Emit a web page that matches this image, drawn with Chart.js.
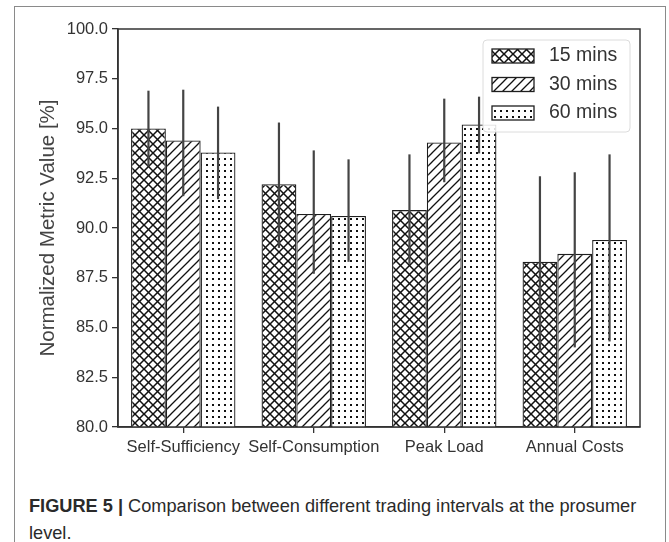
<!DOCTYPE html>
<html>
<head>
<meta charset="utf-8">
<script src="https://cdn.jsdelivr.net/npm/chart.js@4.4.1/dist/chart.umd.min.js"></script>
<style>
  html, body { margin: 0; padding: 0; background: #fff; }
  body { width: 669px; height: 542px; position: relative; overflow: hidden; font-family: "Liberation Sans", Arial, sans-serif; }
  #frame { position: absolute; left: 14px; top: 6px; width: 652px; height: 560px; border: 1.5px solid #8a8a8a; box-sizing: border-box; }
  #wrap { position: absolute; left: 0; top: 0; width: 669px; height: 470px; }
  #caption { position: absolute; left: 29px; top: 493px; width: 612px; font-size: 18.2px; line-height: 27px; color: #2a2a2a; }
  #caption b { font-weight: bold; }
</style>
</head>
<body>
<div id="frame"></div>
<div id="wrap"><canvas id="chart"></canvas></div>
<div id="caption"><b>FIGURE 5 |</b> Comparison between different trading intervals at the prosumer level.</div>
<script>
// data
var categories = ["Self-Sufficiency", "Self-Consumption", "Peak Load", "Annual Costs"];
var seriesNames = ["15 mins", "30 mins", "60 mins"];
var mean15 = [95.0, 92.2, 90.9, 88.3];
var mean30 = [94.4, 90.7, 94.3, 88.7];
var mean60 = [93.8, 90.6, 95.2, 89.4];
// whisker ends
var low15 = [93.1, 89.0, 88.2, 83.8];
var high15 = [96.9, 95.3, 93.7, 92.6];
var low30 = [91.6, 87.7, 92.3, 84.0];
var high30 = [96.95, 93.9, 96.5, 92.8];
var low60 = [91.45, 88.3, 93.75, 84.3];
var high60 = [96.1, 93.45, 96.6, 93.7];
var yTicks = [80.0, 82.5, 85.0, 87.5, 90.0, 92.5, 95.0, 97.5, 100.0];

// hatch patterns
function makePattern(kind) {
  var c = document.createElement("canvas");
  var s = kind == "dots" ? 6 : 9;
  c.width = s; c.height = s;
  var g = c.getContext("2d");
  g.fillStyle = "#fff";
  g.fillRect(0, 0, s, s);
  g.strokeStyle = "#111";
  g.fillStyle = "#111";
  g.lineWidth = kind == "cross" ? 1.5 : 1.3;
  if (kind == "cross" || kind == "diag") {
    g.beginPath();
    g.moveTo(-1, s + 1); g.lineTo(s + 1, -1);
    g.moveTo(-1, 1); g.lineTo(1, -1);
    g.moveTo(s - 1, s + 1); g.lineTo(s + 1, s - 1);
    g.stroke();
  }
  if (kind == "cross") {
    g.beginPath();
    g.moveTo(-1, -1); g.lineTo(s + 1, s + 1);
    g.moveTo(s - 1, -1); g.lineTo(s + 1, 1);
    g.moveTo(-1, s - 1); g.lineTo(1, s + 1);
    g.stroke();
  }
  if (kind == "dots") {
    g.fillRect(2, 2, 2, 2);
  }
  return g.createPattern(c, "repeat");
}
var patterns = [makePattern("cross"), makePattern("diag"), makePattern("dots")];

var means = [mean15, mean30, mean60];
var lows = [low15, low30, low60];
var highs = [high15, high30, high60];

var datasets = [];
for (var i = 0; i < seriesNames.length; i++) {
  datasets.push({
    label: seriesNames[i],
    data: means[i],
    backgroundColor: patterns[i],
    borderColor: "#1e1e1e",
    borderWidth: 1.3,
    borderSkipped: "bottom",
    barPercentage: 1.0,
    categoryPercentage: 0.8
  });
}

// error bars, plot frame and the legend box
var extras = {
  id: "extras",
  afterDatasetsDraw: function (chart) {
    var ctx = chart.ctx;
    var y = chart.scales.y;
    ctx.save();
    ctx.strokeStyle = "#444";
    ctx.lineWidth = 2.2;
    for (var d = 0; d < chart.data.datasets.length; d++) {
      var meta = chart.getDatasetMeta(d);
      for (var j = 0; j < meta.data.length; j++) {
        var x = meta.data[j].x;
        ctx.beginPath();
        ctx.moveTo(x, y.getPixelForValue(lows[d][j]));
        ctx.lineTo(x, y.getPixelForValue(highs[d][j]));
        ctx.stroke();
      }
    }
    // frame round the plot
    var a = chart.chartArea;
    ctx.strokeStyle = "#333";
    ctx.lineWidth = 1.5;
    ctx.strokeRect(a.left, a.top, a.right - a.left, a.bottom - a.top);

    // legend
    var lx = a.right - 157, ly = a.top + 11, lw = 147, lh = 92;
    ctx.beginPath();
    ctx.roundRect(lx, ly, lw, lh, 4);
    ctx.fillStyle = "rgba(255,255,255,0.85)";
    ctx.fill();
    ctx.strokeStyle = "#dcdcdc";
    ctx.lineWidth = 1;
    ctx.stroke();
    ctx.font = "19.5px 'Liberation Sans', Arial, sans-serif";
    ctx.textBaseline = "middle";
    for (var k = 0; k < seriesNames.length; k++) {
      var sy = ly + 9 + k * 28.5;
      ctx.fillStyle = patterns[k];
      ctx.fillRect(lx + 9, sy, 42, 14);
      ctx.strokeStyle = "#1e1e1e";
      ctx.lineWidth = 1.3;
      ctx.strokeRect(lx + 9, sy, 42, 14);
      ctx.fillStyle = "#333";
      ctx.fillText(seriesNames[k], lx + 66, sy + 7);
    }
    ctx.restore();
  }
};

var tickFont = { family: "'Liberation Sans', Arial, sans-serif", size: 16.5 };

new Chart(document.getElementById("chart"), {
  type: "bar",
  data: { labels: categories, datasets: datasets },
  options: {
    responsive: true,
    maintainAspectRatio: false,
    animation: false,
    layout: { padding: { left: 0, right: 29, top: 29, bottom: 0 } },
    plugins: {
      legend: { display: false },
      tooltip: { enabled: false }
    },
    scales: {
      x: {
        offset: true,
        grid: { offset: false, drawOnChartArea: false, drawTicks: true, tickLength: 6, color: "#333", lineWidth: 1.3 },
        border: { display: true, color: "#333", width: 1.5 },
        ticks: { color: "#333", font: tickFont, padding: 5, maxRotation: 0, autoSkip: false },
        afterFit: function (s) { s.height = 43; }
      },
      y: {
        min: 80,
        max: 100,
        afterBuildTicks: function (s) {
          s.ticks = yTicks.map(function (v) { return { value: v }; });
        },
        grid: { drawOnChartArea: false, drawTicks: true, tickLength: 6, color: "#333", lineWidth: 1.3 },
        border: { display: true, color: "#333", width: 1.5 },
        ticks: {
          color: "#333",
          font: tickFont,
          padding: 4,
          callback: function (v) { return Number(v).toFixed(1); }
        },
        title: {
          display: true,
          text: "Normalized Metric Value [%]",
          color: "#444",
          font: { family: "'Liberation Sans', Arial, sans-serif", size: 20.5 },
          padding: { top: 36, bottom: 0 }
        },
        afterFit: function (s) { s.width = 118; }
      }
    }
  },
  plugins: [extras]
});
</script>
</body>
</html>
